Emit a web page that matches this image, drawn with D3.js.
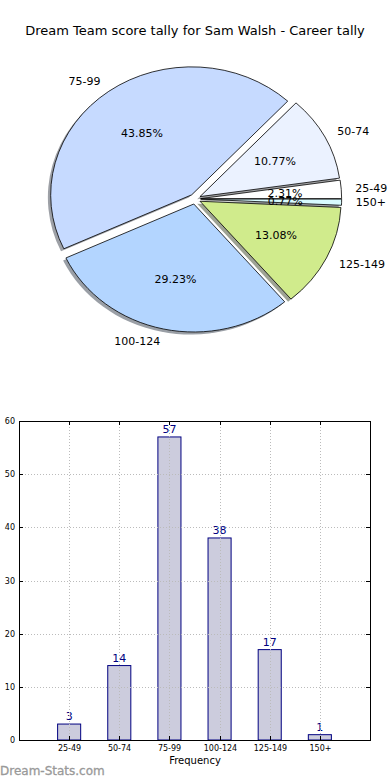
<!DOCTYPE html>
<html>
<head>
<meta charset="utf-8">
<script src="https://cdn.jsdelivr.net/npm/d3@7"></script>
<style>
  body { margin: 0; background: #fff; }
  text { font-family: "DejaVu Sans", sans-serif; }
</style>
</head>
<body>
<script>
var width = 390;
var height = 780;

// data
var categories = ["25-49", "50-74", "75-99", "100-124", "125-149", "150+"];
var counts = [3, 14, 57, 38, 17, 1];
var sliceColors = ["#ffffff", "#ebf2ff", "#c6daff", "#b3d5ff", "#d0eb8c", "#d8fbff"];
var yTicks = [0, 10, 20, 30, 40, 50, 60];

var svg = d3.select("body").append("svg")
    .attr("width", width)
    .attr("height", height);

// title
svg.append("text")
    .attr("x", 195)
    .attr("y", 35)
    .attr("text-anchor", "middle")
    .style("font-size", "13px")
    .text("Dream Team score tally for Sam Walsh - Career tally");

// ---- pie (matplotlib style: ccw from 3 o'clock, elliptical, exploded, shadow) ----
var cx = 195, cy = 199, rx = 141, ry = 128;
var explode = 0.04;
var total = d3.sum(counts);

var pie = d3.pie().sort(null)
    .startAngle(Math.PI / 2)
    .endAngle(Math.PI / 2 - 2 * Math.PI);

var arcs = pie(counts);
var arc = d3.arc().innerRadius(0).outerRadius(100);

// math angle (ccw from x axis) of the slice middle
function midTheta(d) {
  return Math.PI / 2 - (d.startAngle + d.endAngle) / 2;
}
function sliceCenter(d) {
  var t = midTheta(d);
  return [cx + explode * rx * Math.cos(t), cy - explode * ry * Math.sin(t)];
}

var shadows = svg.append("g");
var wedges = svg.append("g");
var pieLabels = svg.append("g");

arcs.forEach(function(d, i) {
  var c = sliceCenter(d);
  var base = d3.rgb(sliceColors[i]);
  shadows.append("path")
      .attr("d", arc(d))
      .attr("transform", "translate(" + (c[0] - 0.02 * rx) + "," + (c[1] + 0.02 * ry) + ") scale(" + rx / 100 + "," + ry / 100 + ")")
      .style("fill", d3.rgb(base.r * 0.3, base.g * 0.3, base.b * 0.3))
      .style("opacity", 0.5);

  wedges.append("path")
      .attr("d", arc(d))
      .attr("transform", "translate(" + c[0] + "," + c[1] + ") scale(" + rx / 100 + "," + ry / 100 + ")")
      .style("fill", sliceColors[i])
      .style("stroke", "#000")
      .style("stroke-width", 0.8)
      .attr("vector-effect", "non-scaling-stroke");

  var t = midTheta(d);
  var lx = c[0] + 1.1 * rx * Math.cos(t);
  var ly = c[1] - 1.1 * ry * Math.sin(t);
  pieLabels.append("text")
      .attr("x", lx)
      .attr("y", ly)
      .attr("dy", "0.35em")
      .attr("text-anchor", Math.cos(t) > 0 ? "start" : "end")
      .style("font-size", "11px")
      .text(categories[i]);

  var px = c[0] + 0.6 * rx * Math.cos(t);
  var py = c[1] - 0.6 * ry * Math.sin(t);
  pieLabels.append("text")
      .attr("x", px)
      .attr("y", py)
      .attr("dy", "0.35em")
      .attr("text-anchor", "middle")
      .style("font-size", "11px")
      .text((counts[i] / total * 100).toFixed(2) + "%");
});

// ---- bar chart ----
var plotLeft = 19, plotRight = 370, plotTop = 421, plotBottom = 740;

var x = d3.scaleLinear().domain([-1, 6]).range([plotLeft, plotRight]);
var y = d3.scaleLinear().domain([0, 60]).range([plotBottom, plotTop]);
var barW = 0.46;

var bars = svg.append("g");
bars.selectAll("rect")
    .data(counts)
    .enter().append("rect")
    .attr("x", function(d, i) { return x(i - barW / 2); })
    .attr("y", function(d) { return y(d); })
    .attr("width", function(d, i) { return x(i + barW / 2) - x(i - barW / 2); })
    .attr("height", function(d) { return y(0) - y(d); })
    .style("fill", "#ccccdd")
    .style("stroke", "#000080")
    .style("stroke-width", 1);

// grid (drawn on top like old matplotlib)
var grid = svg.append("g")
    .style("stroke", "#bbb")
    .style("stroke-width", 1)
    .style("stroke-dasharray", "1,2");
categories.forEach(function(c, i) {
  grid.append("line")
      .attr("x1", Math.round(x(i)) + 0.5).attr("x2", Math.round(x(i)) + 0.5)
      .attr("y1", plotTop).attr("y2", plotBottom);
});
yTicks.forEach(function(t) {
  grid.append("line")
      .attr("x1", plotLeft).attr("x2", plotRight)
      .attr("y1", Math.round(y(t)) + 0.5).attr("y2", Math.round(y(t)) + 0.5);
});

// value labels
bars.selectAll("text")
    .data(counts)
    .enter().append("text")
    .attr("x", function(d, i) { return x(i); })
    .attr("y", function(d) { return y(d) - 4; })
    .attr("text-anchor", "middle")
    .style("font-size", "11px")
    .style("fill", "#000080")
    .text(function(d) { return d; });

// frame
svg.append("rect")
    .attr("x", plotLeft + 0.5).attr("y", plotTop + 0.5)
    .attr("width", plotRight - plotLeft).attr("height", plotBottom - plotTop)
    .style("fill", "none")
    .style("stroke", "#000")
    .style("stroke-width", 1);

// inward ticks
var ticks = svg.append("g").style("stroke", "#000").style("stroke-width", 1);
yTicks.forEach(function(t) {
  var yy = Math.round(y(t)) + 0.5;
  ticks.append("line").attr("x1", plotLeft).attr("x2", plotLeft + 4).attr("y1", yy).attr("y2", yy);
  ticks.append("line").attr("x1", plotRight - 4).attr("x2", plotRight).attr("y1", yy).attr("y2", yy);
  svg.append("text")
      .attr("x", plotLeft - 4)
      .attr("y", yy)
      .attr("dy", "0.35em")
      .attr("text-anchor", "end")
      .style("font-size", "8px")
      .text(t);
});
categories.forEach(function(c, i) {
  var xx = Math.round(x(i)) + 0.5;
  ticks.append("line").attr("x1", xx).attr("x2", xx).attr("y1", plotBottom - 4).attr("y2", plotBottom);
  ticks.append("line").attr("x1", xx).attr("x2", xx).attr("y1", plotTop).attr("y2", plotTop + 4);
  svg.append("text")
      .attr("x", xx)
      .attr("y", plotBottom + 11)
      .attr("text-anchor", "middle")
      .style("font-size", "8px")
      .text(c);
});

svg.append("text")
    .attr("x", 195)
    .attr("y", 764)
    .attr("text-anchor", "middle")
    .style("font-size", "10px")
    .text("Frequency");

// watermark
svg.append("text")
    .attr("x", 0)
    .attr("y", 775)
    .style("font-size", "12px")
    .style("fill", "#999")
    .style("stroke", "#999")
    .style("stroke-width", 0.3)
    .text("Dream-Stats.com");
</script>
</body>
</html>
